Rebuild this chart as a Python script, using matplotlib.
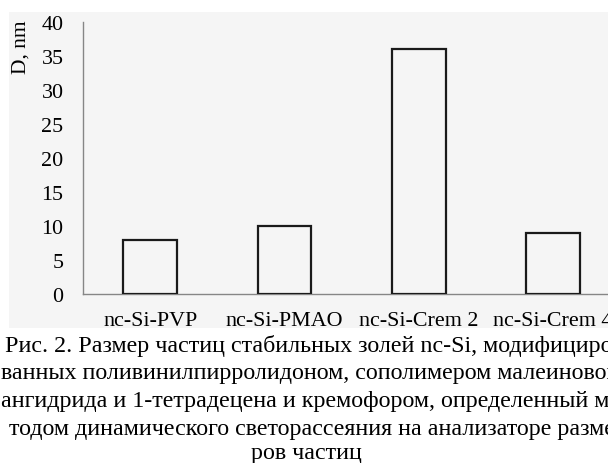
import matplotlib
matplotlib.use("Agg")
import matplotlib.pyplot as plt
from matplotlib.patches import Rectangle

# Particle size of stable nc-Si sols
categories = ["nc-Si-PVP", "nc-Si-PMAO", "nc-Si-Crem 2", "nc-Si-Crem 4"]
sizes_nm = [8, 10, 36, 9]
y_ticks = [0, 5, 10, 15, 20, 25, 30, 35, 40]
y_label = "D, nm"
caption_lines = [
    "Рис. 2. Размер частиц стабильных золей nc-Si, модифициро-",
    "ванных поливинилпирролидоном, сополимером малеинового",
    "ангидрида и 1-тетрадецена и кремофором, определенный ме-",
    "тодом динамического светорассеяния на анализаторе разме-",
    "ров частиц",
]

W, H = 608, 464
plt.rcParams["font.family"] = ["Liberation Serif", "DejaVu Serif"]
fig = plt.figure(figsize=(W / 100, H / 100), dpi=100)
fig.patch.set_facecolor("white")

def px(x, y):
    """Pixel position (from top-left) to figure fraction."""
    return x / W, 1 - y / H

# light gray chart panel
x0, y0 = px(9, 329)
x1, y1 = px(620, 13)
fig.add_artist(Rectangle((x0, y0), x1 - x0, y1 - y0, transform=fig.transFigure,
                         facecolor="#f5f5f5", edgecolor="none", zorder=0))

left, bottom = px(83, 295)
_, top = px(83, 23)
right = 83 + 4 * 134.3
ax = fig.add_axes([left, bottom, right / W - left, top - bottom])
ax.set_facecolor("none")

xs = range(len(categories))
ax.bar(xs, sizes_nm, width=0.40, facecolor="none", edgecolor="#1a1a1a",
       linewidth=1.6, zorder=3)
ax.set_xlim(-0.5, len(categories) - 0.5)
ax.set_ylim(0, 40)
ax.set_yticks(y_ticks)
ax.set_xticks(list(xs))
ax.set_xticklabels(categories)
ax.tick_params(axis="both", length=0, labelsize=15.8, colors="black")
ax.tick_params(axis="y", pad=14)
ax.tick_params(axis="x", pad=12.3)

for s in ["top", "right"]:
    ax.spines[s].set_visible(False)
for s in ["left", "bottom"]:
    ax.spines[s].set_color("#868686")
    ax.spines[s].set_linewidth(1.0)

lx, ly = px(31, 47)
fig.text(lx, ly, y_label, rotation=90, ha="right", va="center", fontsize=15.5)

line_x = [5, 1, 1, 9, None]
baselines = [352, 379, 407, 435, 459]
for text, lxp, by in zip(caption_lines, line_x, baselines):
    if lxp is None:
        cx, cy = px(306, by)
        fig.text(cx, cy, text, ha="center", va="baseline", fontsize=17.3)
    else:
        cx, cy = px(lxp, by)
        fig.text(cx, cy, text, ha="left", va="baseline", fontsize=17.3)

fig.savefig("out.png", dpi=100)
